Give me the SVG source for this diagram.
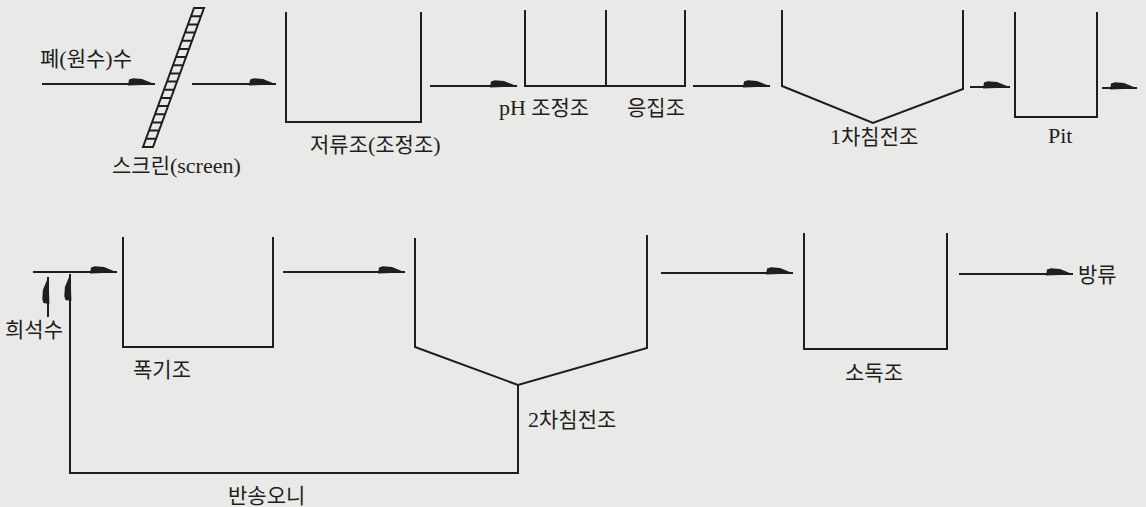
<svg xmlns="http://www.w3.org/2000/svg" width="1146" height="507" viewBox="0 0 1146 507">
<style>
.t{fill:none;stroke:#1e1e1e;stroke-width:2;stroke-linejoin:miter}
.c{fill:none;stroke:#1e1e1e;stroke-width:2}
.l{font-family:"Liberation Serif","Noto Sans CJK KR",serif;font-size:21px;fill:#1e1e1e}
.s{font-family:"Liberation Serif",serif;font-size:22px}
</style>
<defs>
<marker id="ah" markerUnits="userSpaceOnUse" markerWidth="30" markerHeight="12" refX="27" refY="6" orient="auto" overflow="visible">
<path d="M27.5,6.5 L14,0.9 L5,0.3 L1,1.4 L0,7.4 Z" fill="#1e1e1e"/>
</marker>
</defs>
<rect width="1146" height="507" fill="#e9e9e7"/>
<g id="connectors">
<line class="c" x1="42" y1="84" x2="155" y2="84" marker-end="url(#ah)"/>
<line class="c" x1="192" y1="84" x2="276" y2="84" marker-end="url(#ah)"/>
<line class="c" x1="430" y1="86" x2="517" y2="86" marker-end="url(#ah)"/>
<line class="c" x1="693" y1="86" x2="770" y2="86" marker-end="url(#ah)"/>
<line class="c" x1="970" y1="87" x2="1010" y2="87" marker-end="url(#ah)"/>
<line class="c" x1="1102" y1="88" x2="1137" y2="88" marker-end="url(#ah)"/>
<line class="c" x1="33" y1="272" x2="117" y2="272" marker-end="url(#ah)"/>
<line class="c" x1="283" y1="272" x2="405" y2="272" marker-end="url(#ah)"/>
<line class="c" x1="661" y1="273" x2="793" y2="273" marker-end="url(#ah)"/>
<line class="c" x1="959" y1="274" x2="1073" y2="274" marker-end="url(#ah)"/>
<line class="c" x1="48" y1="317" x2="48" y2="277" marker-end="url(#ah)"/>
<path class="c" d="M518,385 L518,473 L70,473 L70,274" marker-end="url(#ah)"/>
</g>
<g id="screen">
<path class="t" stroke-width="1.6" d="M194,8 L204,8 L153,147 L143,147 Z M191,16.2 L201,16.2 M188,24.4 L198,24.4 M185,32.5 L195,32.5 M182,40.7 L192,40.7 M179,48.9 L189,48.9 M176,57.1 L186,57.1 M173,65.2 L183,65.2 M170,73.4 L180,73.4 M167,81.6 L177,81.6 M164,89.8 L174,89.8 M161,97.9 L171,97.9 M158,106.1 L168,106.1 M155,114.3 L165,114.3 M152,122.5 L162,122.5 M149,130.6 L159,130.6 M146,138.8 L156,138.8"/>
</g>
<g id="reservoir"><path class="t" d="M286,12 L286,122 L421,122 L421,12"/></g>
<g id="ph-coag"><path class="t" d="M525,10 L525,86 L685,86 L685,10 M606,10 L606,86"/></g>
<g id="primary"><path class="t" d="M782,10 L782,86 L873,123 L963,89 L963,10"/></g>
<g id="pit"><path class="t" d="M1015,12 L1015,117 L1097,117 L1097,12"/></g>
<g id="aeration"><path class="t" d="M123,237 L123,347 L273,347 L273,237"/></g>
<g id="secondary"><path class="t" d="M415,238 L415,347 L518,385 L647,348 L647,235"/></g>
<g id="disinfect"><path class="t" d="M804,233 L804,349 L947,349 L947,233"/></g>
<g id="labels">
<text class="l" x="40" y="66">폐<tspan class="s">(</tspan>원수<tspan class="s">)</tspan>수</text>
<text class="l" x="112" y="173">스크린<tspan class="s">(screen)</tspan></text>
<text class="l" x="310" y="152">저류조<tspan class="s">(</tspan>조정조<tspan class="s">)</tspan></text>
<text class="l" x="499" y="115"><tspan class="s">pH</tspan> 조정조</text>
<text class="l" x="627" y="115">응집조</text>
<text class="l" x="830" y="144"><tspan class="s">1</tspan>차침전조</text>
<text class="l" x="1048" y="143"><tspan class="s">Pit</tspan></text>
<text class="l" x="5" y="337">희석수</text>
<text class="l" x="133" y="377">폭기조</text>
<text class="l" x="528" y="427"><tspan class="s">2</tspan>차침전조</text>
<text class="l" x="845" y="380">소독조</text>
<text class="l" x="1078" y="282">방류</text>
<text class="l" x="228" y="503">반송오니</text>
</g>
</svg>
